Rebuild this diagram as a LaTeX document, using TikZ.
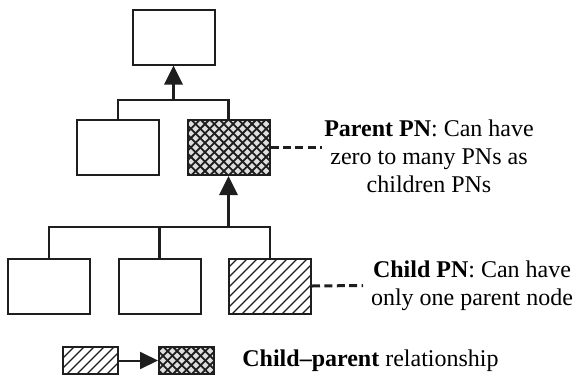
\documentclass[tikz,border=0pt]{standalone}
\usepackage{fontspec}
\setmainfont{Liberation Serif}
\usetikzlibrary{arrows.meta}
\definecolor{ink}{HTML}{1E1E1E}
\definecolor{crossfill}{HTML}{DEDEDE}
\begin{document}
\begin{tikzpicture}[x=0.5pt,y=-0.5pt,
  box/.style={draw=ink,line width=1pt,fill=white,minimum width=41pt,minimum height=27.5pt,inner sep=0pt},
  crossbox/.style={box,fill=crossfill,path picture={
      \foreach \k in {-12,...,12}{
        \draw[ink,line width=0.9pt] ([xshift=\k*4.7pt]path picture bounding box.center) ++(-40,-40) -- ++(80,80);
        \draw[ink,line width=0.9pt] ([xshift=\k*4.7pt]path picture bounding box.center) ++(-40,40) -- ++(80,-80);
      }}},
  hatchbox/.style={box,path picture={
      \foreach \k in {-12,...,12}{
        \draw[ink,line width=0.7pt] ([xshift=\k*5pt]path picture bounding box.center) ++(-40,40) -- ++(80,-80);
      }}},
  link/.style={draw=ink,line width=1.1pt},
  uparrow/.style={draw=ink,line width=1.5pt,-{Triangle[length=9.5pt,width=9pt]}},
  legarrow/.style={draw=ink,line width=1pt,-{Triangle[length=9pt,width=8.5pt]}},
  leader/.style={draw=ink,line width=1.5pt,dash pattern=on 4pt off 2.2pt},
  note/.style={align=center,font=\fontsize{12}{14}\selectfont,inner sep=0pt}
]
\useasboundingbox (0,0) rectangle (574,376);

% tree of nodes
\node[box] (top) at (173.5,37) {};
\node[box] (midL) at (118,147.5) {};
\node[crossbox] (parent) at (228.5,147.5) {};
\node[box] (b1) at (49,286) {};
\node[box] (b2) at (159.5,286) {};
\node[hatchbox] (b3) at (270,286) {};

% junctions
\coordinate (j1) at (173.5,100);
\coordinate (j2) at (228.5,227);

\draw[link] (midL.north) |- (j1) -| (parent.north);
\draw[uparrow] (j1) -- (top.south);

\draw[link] (b1.north) |- (j2) -| (b3.north);
\draw[link] (b2.north) -- (b2.north |- j2);
\draw[uparrow] (j2) -- (parent.south);

% annotations
\coordinate (pend) at (322,147.5);
\coordinate (cend) at (363,285.5);
\draw[leader] (parent.east) -- (pend);
\draw[leader] (b3.east) -- (cend);

\node[note] (ptext) at (429,156) {\textbf{Parent PN}: Can have\\zero to many PNs as\\children PNs};
\node[note] (ctext) at (472,286) {\textbf{Child PN}: Can have\\only one parent node};

% legend
\node[hatchbox,minimum width=27.5pt,minimum height=13.5pt] (lc) at (90.5,360.5) {};
\node[crossbox,minimum width=27.5pt,minimum height=13.5pt] (lp) at (186.5,360.5) {};
\draw[legarrow] (lc.east) -- (lp.west);
\node[note,anchor=west] (ltext) at (242,361) {\textbf{Child--parent} relationship};
\end{tikzpicture}
\end{document}
